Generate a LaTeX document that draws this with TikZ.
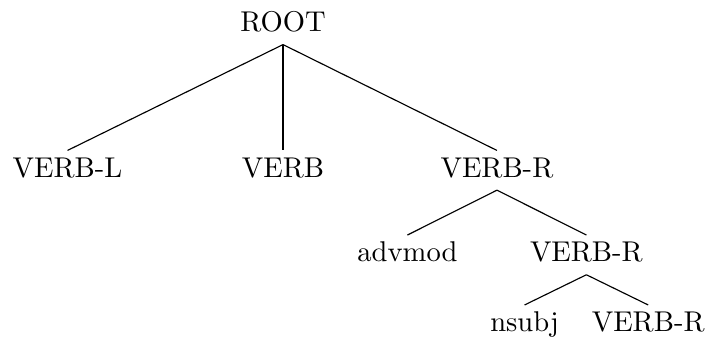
\documentclass[tikz,border=0pt]{standalone}
\usepackage{amsmath,amssymb}
\usepackage{tikz}
\usetikzlibrary{positioning}

\tikzset{lbl/.style={anchor=base, text height=7.4pt, text depth=2.5pt, inner sep=1.8pt}}

\begin{document}
\begin{tikzpicture}
\useasboundingbox (0,0) rectangle (8.73,-4.24);
\node[lbl] (root) at (3.48,-0.39) {ROOT};
\node[lbl] (verbl) at (0.83,-2.18) {VERB-L};
\node[lbl] (verb) at (3.48,-2.18) {VERB};
\node[lbl] (verbr) at (6.11,-2.18) {VERB-R};
\node[lbl] (advmod) at (5.01,-3.22) {advmod};
\node[lbl] (verbrr) at (7.21,-3.22) {VERB-R};
\node[lbl] (nsubj) at (6.45,-4.08) {nsubj};
\node[lbl] (verbrrr) at (7.97,-4.08) {VERB-R};
\draw (root.south)--(verbl.north);
\draw (root.south)--(verb.north);
\draw (root.south)--(verbr.north);
\draw (verbr.south)--(advmod.north);
\draw (verbr.south)--(verbrr.north);
\draw (verbrr.south)--(nsubj.north);
\draw (verbrr.south)--(verbrrr.north);
\end{tikzpicture}
\end{document}
